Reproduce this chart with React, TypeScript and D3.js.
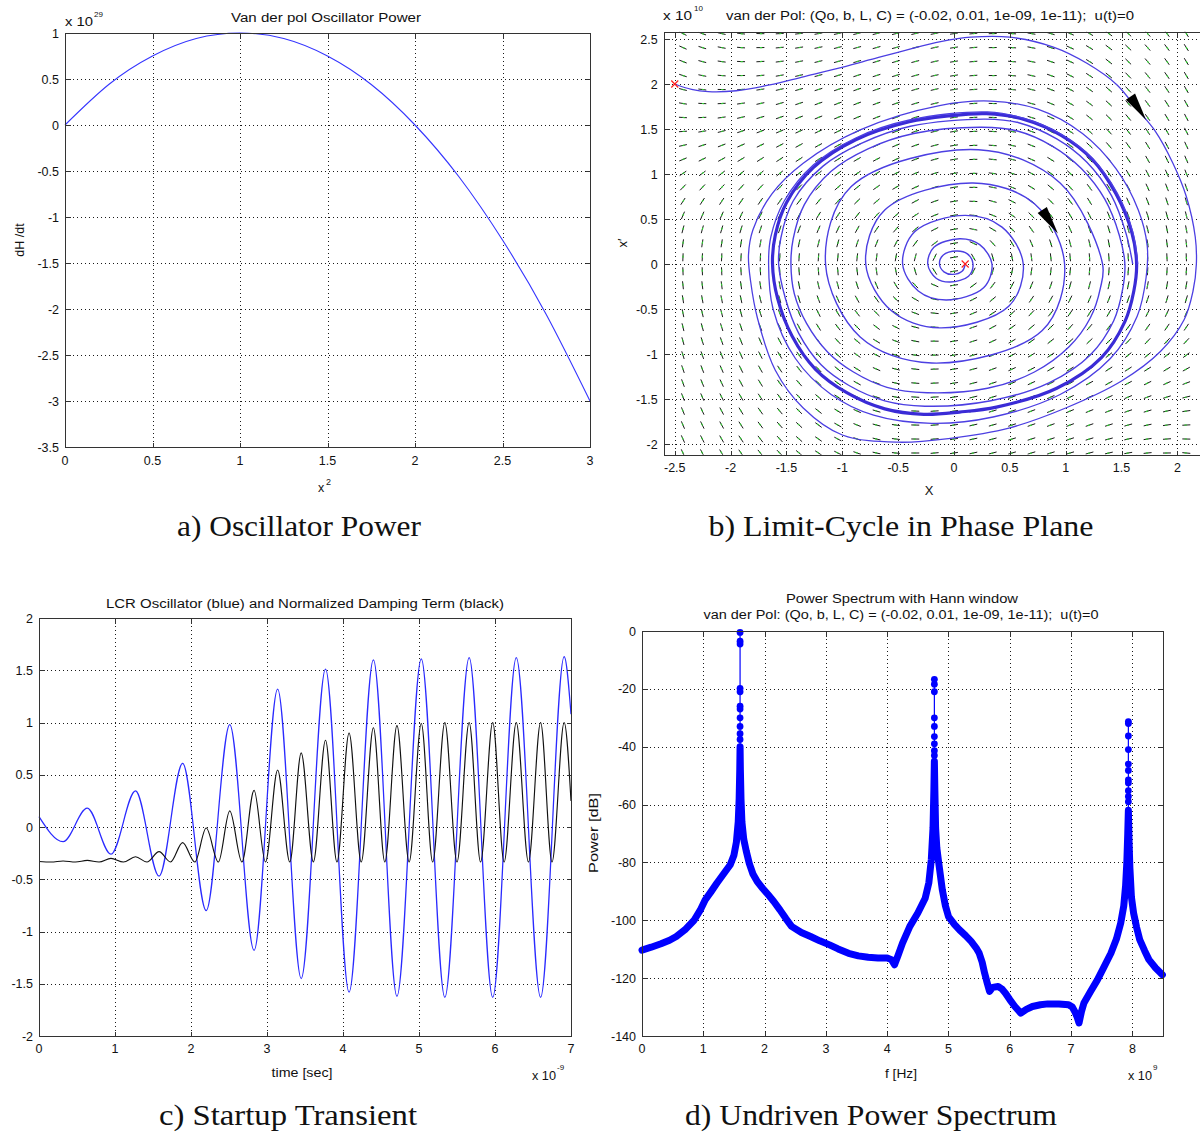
import React from "react";
import * as d3 from "d3";

const SANS = "'Liberation Sans', Arial, Helvetica, sans-serif";
const SERIF = "'Liberation Serif', 'Times New Roman', serif";

// ===== a) Oscillator Power =====
const A_X2 = [0, 0.25, 0.5, 0.75, 1, 1.25, 1.5, 1.75, 2, 2.25, 2.5, 2.75, 3];
const A_DHDT = [0, 0.44, 0.75, 0.94, 1, 0.94, 0.75, 0.44, 0, -0.56, -1.25, -2.06, -3];
const A_XTICKS = [0, 0.5, 1, 1.5, 2, 2.5, 3];
const A_YTICKS = [1, 0.5, 0, -0.5, -1, -1.5, -2, -2.5, -3, -3.5];

// ===== b) Limit cycle in phase plane =====
const VDP_QO = -0.02;
const VDP_B = 0.01;
const VDP_L = 1e-9;
const VDP_C = 1e-11;
const B_XTICKS = [-2.5, -2, -1.5, -1, -0.5, 0, 0.5, 1, 1.5, 2, 2.5];
const B_YTICKS = [2.5, 2, 1.5, 1, 0.5, 0, -0.5, -1, -1.5, -2];
const QUIVER_X = d3.range(1, 31).map((i) => -2.6 + (i * 5.2) / 30);
const QUIVER_Y = d3.range(0, 31).map((i) => 2.56 - (i * 4.66) / 30);
const SPIRAL: number[][] = [
  [0.1, 0], [0.075, -0.077], [-0.015, -0.115], [-0.09, -0.087], [-0.13, 0], [-0.098, 0.098], [0.025, 0.145], [0.12, 0.112],
  [0.17, 0], [0.13, -0.135], [-0.035, -0.2], [-0.16, -0.158], [-0.235, 0], [-0.18, 0.185], [0.05, 0.28], [0.23, 0.215],
  [0.34, 0], [0.265, -0.265], [-0.07, -0.4], [-0.32, -0.3], [-0.46, 0], [-0.35, 0.36], [0.1, 0.54], [0.43, 0.41],
  [0.62, 0], [0.49, -0.47], [-0.13, -0.71], [-0.56, -0.52], [-0.79, 0], [-0.62, 0.6], [0.17, 0.9], [0.72, 0.67],
  [0.99, 0], [0.79, -0.74], [-0.2, -1.1], [-0.84, -0.81], [-1.15, 0], [-0.92, 0.86], [0.22, 1.27], [0.95, 0.9],
  [1.33, 0], [1.31, -0.27], [1.22, -0.6], [1.03, -0.92], [0.72, -1.2], [0.3, -1.38], [-0.24, -1.43], [-0.6, -1.37],
  [-0.9, -1.2], [-1.13, -0.98], [-1.32, -0.66], [-1.43, -0.33], [-1.46, 0], [-1.44, 0.28], [-1.34, 0.66], [-1.1, 1.03],
  [-0.77, 1.28], [-0.36, 1.45], [0.25, 1.52], [0.56, 1.48], [0.88, 1.31], [1.14, 1.06], [1.35, 0.72], [1.48, 0.32],
  [1.53, 0], [1.51, -0.28], [1.43, -0.63], [1.22, -1.01], [0.85, -1.32], [0.33, -1.52], [-0.26, -1.58], [-0.62, -1.52],
  [-0.94, -1.35], [-1.19, -1.12], [-1.39, -0.77], [-1.51, -0.38], [-1.57, 0], [-1.55, 0.29], [-1.44, 0.7], [-1.17, 1.09],
  [-0.83, 1.34], [-0.39, 1.53], [0.28, 1.61], [0.58, 1.57], [0.92, 1.39], [1.19, 1.13], [1.41, 0.76], [1.54, 0.34],
  [1.6, 0],
];
const LIMIT_CYCLE: number[][] = [
  [1.635, 0], [1.61, -0.3], [1.53, -0.64], [1.32, -1.04], [0.92, -1.38], [0.38, -1.59], [0.05, -1.645], [-0.27, -1.67],
  [-0.62, -1.61], [-0.96, -1.43], [-1.24, -1.17], [-1.45, -0.8], [-1.58, -0.38], [-1.625, 0], [-1.6, 0.32], [-1.5, 0.68],
  [-1.26, 1.07], [-0.88, 1.38], [-0.4, 1.58], [-0.05, 1.645], [0.29, 1.67], [0.62, 1.61], [0.96, 1.43], [1.24, 1.16],
  [1.45, 0.78], [1.59, 0.36],
];
const OUTER: number[][] = [
  [-2.5, 2.0], [-2.35, 1.94], [-2.2, 1.915], [-1.95, 1.925], [-1.65, 1.99], [-1.35, 2.08], [-1.05, 2.17], [-0.75, 2.27],
  [-0.42, 2.38], [-0.12, 2.47], [0.15, 2.52], [0.5, 2.52], [0.89, 2.41], [1.19, 2.23], [1.46, 1.99], [1.64, 1.72],
  [1.8, 1.48], [1.96, 1.12], [2.08, 0.75], [2.16, 0.3], [2.17, 0], [2.14, -0.3], [2.06, -0.62], [1.85, -0.97],
  [1.5, -1.3], [1.0, -1.6], [0.5, -1.82], [-0.05, -1.94], [-0.5, -1.98], [-1.0, -1.9], [-1.35, -1.6], [-1.6, -1.18],
  [-1.76, -0.6], [-1.82, -0.2], [-1.84, 0.1], [-1.8, 0.38], [-1.63, 0.78], [-1.35, 1.12], [-0.84, 1.49], [-0.13, 1.76],
  [0.33, 1.81], [0.75, 1.72], [1.15, 1.45], [1.45, 1.06], [1.65, 0.6], [1.73, 0.2], [1.72, -0.15], [1.64, -0.58],
  [1.4, -1.05], [0.95, -1.45], [0.35, -1.7], [-0.2, -1.77], [-0.72, -1.68], [-1.1, -1.45], [-1.42, -1.05], [-1.62, -0.5],
  [-1.66, 0], [-1.64, 0.3], [-1.52, 0.7], [-1.26, 1.1], [-0.88, 1.4], [-0.4, 1.6], [0.3, 1.69], [0.62, 1.62],
  [0.96, 1.44], [1.24, 1.17], [1.46, 0.79], [1.6, 0.36], [1.645, 0],
];
const ARROW_TAILS: number[][] = [[1.58, 1.86], [0.79, 0.6]];
const ARROW_TIPS: number[][] = [[1.72, 1.6], [0.93, 0.34]];
const START_POINTS: number[][] = [[-2.5, 2], [0.1, 0]];

// ===== c) Startup transient =====
const C_BLUE_T = [0, 0.317, 0.635, 0.947, 1.27, 1.58, 1.89, 2.2, 2.51, 2.83, 3.14, 3.45, 3.77, 4.08, 4.4, 4.71, 5.03, 5.34, 5.66, 5.97, 6.28, 6.6, 6.91, 7.0];
const C_BLUE_V = [0.1, -0.14, 0.18, -0.26, 0.345, -0.47, 0.61, -0.8, 0.98, -1.18, 1.32, -1.45, 1.51, -1.58, 1.6, -1.62, 1.61, -1.63, 1.62, -1.63, 1.62, -1.63, 1.63, 1.08];
const C_BLACK_T = [0, 0.16, 0.317, 0.48, 0.635, 0.79, 0.947, 1.11, 1.27, 1.42, 1.58, 1.73, 1.89, 2.05, 2.2, 2.36, 2.51, 2.67, 2.83, 2.98, 3.14, 3.3, 3.45, 3.61, 3.77, 3.92, 4.08, 4.24, 4.4, 4.55, 4.71, 4.87, 5.03, 5.18, 5.34, 5.5, 5.66, 5.81, 5.97, 6.12, 6.28, 6.44, 6.6, 6.75, 6.91, 7.0];
const C_BLACK_V = [-0.33, -0.335, -0.325, -0.335, -0.32, -0.335, -0.3, -0.335, -0.285, -0.335, -0.235, -0.335, -0.15, -0.335, -0.01, -0.335, 0.155, -0.335, 0.35, -0.335, 0.545, -0.335, 0.71, -0.335, 0.83, -0.335, 0.9, -0.335, 0.95, -0.335, 0.97, -0.335, 0.99, -0.335, 1.0, -0.335, 1.0, -0.335, 1.0, -0.335, 1.0, -0.335, 1.0, -0.335, 1.0, 0.25];
const C_XTICKS = [0, 1, 2, 3, 4, 5, 6, 7];
const C_YTICKS = [2, 1.5, 1, 0.5, 0, -0.5, -1, -1.5, -2];

// ===== d) Power spectrum =====
const D_F = [0, 0.15, 0.31, 0.45, 0.56, 0.7, 0.85, 0.95, 1.03, 1.13, 1.22, 1.33, 1.44, 1.5, 1.54, 1.57, 1.585, 1.595, 1.6, 1.605, 1.615, 1.63, 1.66, 1.7, 1.75, 1.81, 1.88, 1.97, 2.06, 2.15, 2.25, 2.35, 2.44, 2.6, 2.75, 2.9, 3.06, 3.2, 3.37, 3.53, 3.69, 3.85, 4.0, 4.07, 4.12, 4.18, 4.25, 4.37, 4.5, 4.62, 4.68, 4.72, 4.748, 4.762, 4.77, 4.778, 4.79, 4.81, 4.84, 4.9, 4.95, 5.0, 5.1, 5.18, 5.28, 5.37, 5.45, 5.5, 5.55, 5.59, 5.63, 5.67, 5.72, 5.81, 5.87, 5.93, 6.0, 6.08, 6.18, 6.27, 6.37, 6.5, 6.62, 6.8, 6.96, 7.02, 7.06, 7.1, 7.13, 7.17, 7.21, 7.32, 7.43, 7.54, 7.65, 7.74, 7.81, 7.86, 7.89, 7.91, 7.925, 7.935, 7.945, 7.96, 7.985, 8.02, 8.07, 8.12, 8.2, 8.27, 8.38, 8.49];
const D_DB = [-110.3, -109.3, -108.1, -106.9, -105.6, -103.3, -100, -96.5, -93, -90, -87.2, -84, -80.8, -77.5, -73, -66, -58, -48, -40, -48, -58, -66, -72, -76, -80.3, -84, -86.6, -89, -91.2, -93.5, -96.4, -99.5, -102.1, -104.2, -105.6, -107.1, -108.5, -109.9, -111.4, -112.3, -112.8, -113, -113, -113.6, -115.4, -112, -107.9, -102.1, -97.5, -92.4, -87, -79, -68, -55, -45, -55, -68, -75, -80, -89.5, -95, -98.7, -101.5, -103.3, -105.3, -107.3, -109.5, -111.3, -114.5, -118.3, -121.5, -124.6, -123.2, -122.9, -123.7, -125.2, -127.4, -129.7, -132.1, -130.8, -129.8, -129.2, -128.9, -128.9, -129.2, -130, -131.5, -133.5, -135.5, -131.5, -128.6, -124.5, -120.6, -116, -111.4, -106.5, -101, -95, -88, -80, -70, -62, -72, -82, -92, -97.5, -102.5, -106.7, -110.5, -113.6, -116.5, -118.8];
const PEAK_F = [1.6, 4.77, 7.935];
const PEAK_BASE = [-40, -45, -62];
const PEAK1_DB = [-0.5, -3.5, -4.5, -19.8, -21, -26, -27, -30, -33, -35.5, -37.5];
const PEAK2_DB = [-16.7, -18.4, -21, -30, -33, -36.5, -39, -41.4, -43];
const PEAK3_DB = [-31.3, -32, -36.3, -41, -46, -48.2, -51.5, -52.5, -55.2, -57.2, -59];
const D_XTICKS = [0, 1, 2, 3, 4, 5, 6, 7, 8];
const D_YTICKS = [0, -20, -40, -60, -80, -100, -120, -140];

type Sc = d3.ScaleLinear<number, number>;

function T(props: {
  x: number; y: number; children: React.ReactNode; size?: number; anchor?: string;
  len?: number; rot?: boolean; family?: string; color?: string;
}) {
  const { x, y, children, size = 12.5, anchor = "start", len, rot, family = SANS, color = "#111" } = props;
  return (
    <text
      x={x}
      y={y}
      fontSize={size}
      fontFamily={family}
      textAnchor={anchor as any}
      fill={color}
      style={{ whiteSpace: "pre" }}
      transform={rot ? `rotate(-90 ${x} ${y})` : undefined}
      {...(len ? { textLength: len, lengthAdjust: "spacingAndGlyphs" } : {})}
    >
      {children}
    </text>
  );
}

function Grid({ x, y, xt, yt }: { x: Sc; y: Sc; xt: number[]; yt: number[] }) {
  const [xa, xb] = x.range();
  const [ya, yb] = y.range();
  return (
    <g stroke="#1a1a1a" strokeWidth={1} strokeDasharray="1,3" fill="none" shapeRendering="crispEdges">
      {xt.filter((t) => x(t) > xa + 2 && x(t) < xb - 2).map((t) => (
        <line key={"gx" + t} x1={Math.round(x(t)) + 0.5} x2={Math.round(x(t)) + 0.5} y1={yb} y2={ya} />
      ))}
      {yt.filter((t) => y(t) < ya - 2 && y(t) > yb + 2).map((t) => (
        <line key={"gy" + t} x1={xa} x2={xb} y1={Math.round(y(t)) + 0.5} y2={Math.round(y(t)) + 0.5} />
      ))}
    </g>
  );
}

function Box({ x, y, xt, yt, gap = 17 }: { x: Sc; y: Sc; xt: number[]; yt: number[]; gap?: number }) {
  const [xa, xb] = x.range();
  const [ya, yb] = y.range();
  const tl = 5;
  const r = (v: number) => Math.round(v) + 0.5;
  return (
    <g>
      <g stroke="#333" strokeWidth={1} fill="none" shapeRendering="crispEdges">
        <rect x={r(xa)} y={r(yb)} width={Math.round(xb - xa)} height={Math.round(ya - yb)} />
        {xt.map((t) => (
          <g key={"tx" + t}>
            <line x1={r(x(t))} x2={r(x(t))} y1={r(ya)} y2={r(ya) - tl} />
            <line x1={r(x(t))} x2={r(x(t))} y1={r(yb)} y2={r(yb) + tl} />
          </g>
        ))}
        {yt.map((t) => (
          <g key={"ty" + t}>
            <line x1={r(xa)} x2={r(xa) + tl} y1={r(y(t))} y2={r(y(t))} />
            <line x1={r(xb)} x2={r(xb) - tl} y1={r(y(t))} y2={r(y(t))} />
          </g>
        ))}
      </g>
      {xt.filter((t) => x(t) < 1185).map((t) => (
        <T key={"lx" + t} x={x(t)} y={ya + gap} anchor="middle">{String(t)}</T>
      ))}
      {yt.map((t) => (
        <T key={"ly" + t} x={xa - 6} y={y(t) + 4.5} anchor="end">{String(t)}</T>
      ))}
    </g>
  );
}

export default function App() {
  // ---------- a ----------
  const ax = d3.scaleLinear().domain([0, 3]).range([65, 590]);
  const ay = d3.scaleLinear().domain([-3.5, 1]).range([447, 33]);
  const aPath =
    d3.line<number>().x((_, i) => ax(A_X2[i])).y((d) => ay(d)).curve(d3.curveNatural)(A_DHDT) || "";

  // ---------- b ----------
  const bx = d3.scaleLinear().domain([-2.6, 2.6]).range([663.6, 1244.4]);
  const by = d3.scaleLinear().domain([-2.12, 2.58]).range([454.8, 31.8]);
  const ptLine = d3
    .line<number[]>()
    .x((d) => bx(d[0]))
    .y((d) => by(d[1]))
    .curve(d3.curveCatmullRom.alpha(0.5));
  const closedLine = d3
    .line<number[]>()
    .x((d) => bx(d[0]))
    .y((d) => by(d[1]))
    .curve(d3.curveCatmullRomClosed.alpha(0.5));
  const omega = 1 / Math.sqrt(VDP_L * VDP_C);
  const kd = 1 / (VDP_C * omega);
  const pxX = bx(1) - bx(0);
  const pxY = by(0) - by(1);
  const quiver: { cx: number; cy: number; sx: number; sy: number }[] = [];
  QUIVER_X.forEach((qx) =>
    QUIVER_Y.forEach((qy) => {
      const u = qy;
      const v = -qx - kd * (VDP_QO + 3 * VDP_B * qx * qx) * qy;
      let sx = u * pxX;
      let sy = -v * pxY;
      const m = Math.hypot(sx, sy);
      if (m < 1e-9) return;
      sx /= m;
      sy /= m;
      quiver.push({ cx: bx(qx), cy: by(qy), sx, sy });
    })
  );
  const arrowPolys = ARROW_TAILS.map((t, i) => {
    const tip = ARROW_TIPS[i];
    const x1 = bx(t[0]), y1 = by(t[1]), x2 = bx(tip[0]), y2 = by(tip[1]);
    const dx = x2 - x1, dy = y2 - y1;
    const L = Math.hypot(dx, dy);
    const nx = -dy / L, ny = dx / L, hw = 5.5;
    return `${x2},${y2} ${x1 + nx * hw},${y1 + ny * hw} ${x1 - nx * hw},${y1 - ny * hw}`;
  });

  // ---------- c ----------
  const cx = d3.scaleLinear().domain([0, 7]).range([39, 571]);
  const cy = d3.scaleLinear().domain([-2, 2]).range([1036, 618]);
  const blueC =
    d3.line<number>().x((_, i) => cx(C_BLUE_T[i])).y((d) => cy(d)).curve(d3.curveMonotoneX)(C_BLUE_V) || "";
  const blackC =
    d3.line<number>().x((_, i) => cx(C_BLACK_T[i])).y((d) => cy(d)).curve(d3.curveMonotoneX)(C_BLACK_V) || "";

  // ---------- d ----------
  const dx = d3.scaleLinear().domain([0, 8.5]).range([642, 1163]);
  const dy = d3.scaleLinear().domain([-140, 0]).range([1036, 631]);
  const band = d3.line<number>().x((_, i) => dx(D_F[i])).y((d) => dy(d))(D_DB) || "";
  const peaks = [PEAK1_DB, PEAK2_DB, PEAK3_DB];

  return (
    <svg
      width={1200}
      height={1133}
      viewBox="0 0 1200 1133"
      style={{ position: "absolute", left: 0, top: 0, background: "#fff" }}
    >
      <defs>
        <clipPath id="clipB">
          <rect x={663.6} y={31.8} width={580.8} height={423} />
        </clipPath>
      </defs>
      <rect x={0} y={0} width={1200} height={1133} fill="#fff" />

      {/* ===== a ===== */}
      <Grid x={ax} y={ay} xt={A_XTICKS} yt={A_YTICKS} />
      <path d={aPath} fill="none" stroke="#3535ff" strokeWidth={1.1} />
      <Box x={ax} y={ay} xt={A_XTICKS} yt={A_YTICKS} gap={18} />
      <T x={326} y={22} anchor="middle" len={190}>Van der pol Oscillator Power</T>
      <T x={65} y={26} len={28}>x 10</T>
      <T x={94} y={17} size={8}>29</T>
      <T x={24} y={240} anchor="middle" rot>dH /dt</T>
      <T x={318} y={492}>x</T>
      <T x={326} y={485} size={9}>2</T>
      <T x={299} y={536} anchor="middle" size={29} family={SERIF} len={244}>a) Oscillator Power</T>

      {/* ===== b ===== */}
      <Grid x={bx} y={by} xt={B_XTICKS} yt={B_YTICKS} />
      <g clipPath="url(#clipB)">
        <g>
          {quiver.map((q, i) => (
            <g key={"q" + i}>
              <line
                x1={q.cx - q.sx * 4}
                y1={q.cy - q.sy * 4}
                x2={q.cx + q.sx * 4}
                y2={q.cy + q.sy * 4}
                stroke="#1a1a1a"
                strokeWidth={1}
              />
              <line
                x1={q.cx - q.sx * 0.5}
                y1={q.cy - q.sy * 0.5}
                x2={q.cx + q.sx * 1.8}
                y2={q.cy + q.sy * 1.8}
                stroke="#33cc33"
                strokeWidth={1.2}
              />
            </g>
          ))}
        </g>
        <path d={closedLine(LIMIT_CYCLE) || ""} fill="none" stroke="#3a2bd6" strokeWidth={3.2} />
        <path d={ptLine(SPIRAL) || ""} fill="none" stroke="#4c3fe2" strokeWidth={1.4} />
        <path d={ptLine(OUTER) || ""} fill="none" stroke="#4c3fe2" strokeWidth={1.3} />
        {arrowPolys.map((p, i) => (
          <polygon key={"ar" + i} points={p} fill="#000" />
        ))}
        {START_POINTS.map((p, i) => (
          <g key={"sp" + i} stroke="#ff2020" strokeWidth={1.2}>
            <line x1={bx(p[0]) - 3.5} y1={by(p[1]) - 3.5} x2={bx(p[0]) + 3.5} y2={by(p[1]) + 3.5} />
            <line x1={bx(p[0]) - 3.5} y1={by(p[1]) + 3.5} x2={bx(p[0]) + 3.5} y2={by(p[1]) - 3.5} />
          </g>
        ))}
      </g>
      <Box x={bx} y={by} xt={B_XTICKS} yt={B_YTICKS} gap={17} />
      <T x={663} y={20} len={29}>x 10</T>
      <T x={694} y={11} size={8}>10</T>
      <T x={930} y={20} anchor="middle" len={408}>{"van der Pol: (Qo, b, L, C) = (-0.02, 0.01, 1e-09, 1e-11);  u(t)=0"}</T>
      <T x={627} y={243} anchor="middle" rot size={13}>x′</T>
      <T x={929} y={495} anchor="middle" size={13}>X</T>
      <T x={901} y={536} anchor="middle" size={29} family={SERIF} len={385}>b) Limit-Cycle in Phase Plane</T>

      {/* ===== c ===== */}
      <Grid x={cx} y={cy} xt={C_XTICKS} yt={C_YTICKS} />
      <path d={blueC} fill="none" stroke="#2a2aff" strokeWidth={1.25} />
      <path d={blackC} fill="none" stroke="#111" strokeWidth={1.15} />
      <Box x={cx} y={cy} xt={C_XTICKS} yt={C_YTICKS} gap={17} />
      <T x={305} y={608} anchor="middle" len={398}>LCR Oscillator (blue) and Normalized Damping Term (black)</T>
      <T x={302} y={1077} anchor="middle" len={61}>time [sec]</T>
      <T x={532} y={1080} len={24}>x 10</T>
      <T x={557} y={1070} size={8}>-9</T>
      <T x={288} y={1125} anchor="middle" size={29} family={SERIF} len={258}>c) Startup Transient</T>

      {/* ===== d ===== */}
      <Grid x={dx} y={dy} xt={D_XTICKS} yt={D_YTICKS} />
      <path d={band} fill="none" stroke="#0000ff" strokeWidth={7} strokeLinejoin="round" strokeLinecap="round" />
      {peaks.map((arr, k) => (
        <g key={"pk" + k} fill="#0000ff">
          <line
            x1={dx(PEAK_F[k])}
            x2={dx(PEAK_F[k])}
            y1={dy(PEAK_BASE[k])}
            y2={dy(d3.max(arr) as number)}
            stroke="#0000ff"
            strokeWidth={1.2}
          />
          {arr.map((v, j) => (
            <circle key={j} cx={dx(PEAK_F[k])} cy={dy(v)} r={3.4} />
          ))}
        </g>
      ))}
      <Box x={dx} y={dy} xt={D_XTICKS} yt={D_YTICKS} gap={17} />
      <T x={902} y={603} anchor="middle" len={232}>Power Spectrum with Hann window</T>
      <T x={901} y={619} anchor="middle" len={395}>{"van der Pol: (Qo, b, L, C) = (-0.02, 0.01, 1e-09, 1e-11);  u(t)=0"}</T>
      <T x={598} y={833} anchor="middle" rot len={80}>Power [dB]</T>
      <T x={901} y={1078} anchor="middle" len={32}>f [Hz]</T>
      <T x={1128} y={1080} len={24}>x 10</T>
      <T x={1153} y={1070} size={8}>9</T>
      <T x={871} y={1125} anchor="middle" size={29} family={SERIF} len={372}>d) Undriven Power Spectrum</T>
    </svg>
  );
}
